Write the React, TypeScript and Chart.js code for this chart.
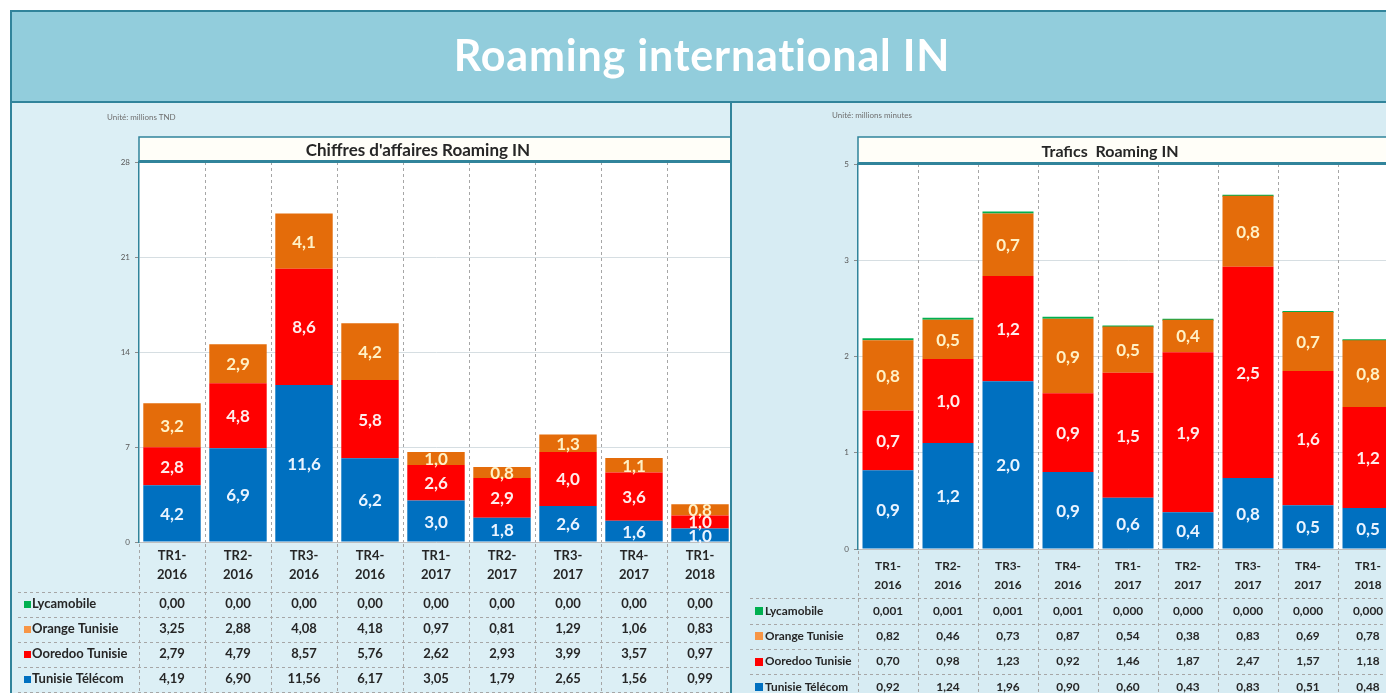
import React, { useEffect, useRef } from 'react';
import { Chart, registerables } from 'chart.js';

Chart.register(...registerables);

// ---------- data ----------
const categories = ['TR1-2016', 'TR2-2016', 'TR3-2016', 'TR4-2016', 'TR1-2017', 'TR2-2017', 'TR3-2017', 'TR4-2017', 'TR1-2018'];
const operators = ['Lycamobile', 'Orange Tunisie', 'Ooredoo Tunisie', 'Tunisie Télécom'];

// Chiffres d'affaires (millions TND)
const revLycamobile = [0, 0, 0, 0, 0, 0, 0, 0, 0];
const revOrange = [3.25, 2.88, 4.08, 4.18, 0.97, 0.81, 1.29, 1.06, 0.83];
const revOoredoo = [2.79, 4.79, 8.57, 5.76, 2.62, 2.93, 3.99, 3.57, 0.97];
const revTunisieTelecom = [4.19, 6.9, 11.56, 6.17, 3.05, 1.79, 2.65, 1.56, 0.99];
const revAxisMax = 28;
const revAxisStep = 7;

// Trafics (millions minutes)
const trafLycamobile = [0.001, 0.001, 0.001, 0.001, 0, 0, 0, 0, 0];
const trafOrange = [0.82, 0.46, 0.73, 0.87, 0.54, 0.38, 0.83, 0.69, 0.78];
const trafOoredoo = [0.7, 0.98, 1.23, 0.92, 1.46, 1.87, 2.47, 1.57, 1.18];
const trafTunisieTelecom = [0.92, 1.24, 1.96, 0.9, 0.6, 0.43, 0.83, 0.51, 0.48];
const trafAxisMax = 4.5;
const trafAxisStep = 1.125;

const COLORS = {
  lyca: '#00B050',
  orange: '#E46C0A',
  ooredoo: '#FF0000',
  tt: '#0070C0',
};
const TEAL = '#31849B';
const FONT = 'Lato, "Open Sans", sans-serif';

const fmt1 = (v: number) => (Math.round(v * 10 - 1e-6) / 10).toFixed(1).replace('.', ',');
const fmtN = (v: number, d: number) => v.toFixed(d).replace('.', ',');

type TableRow = { name: string; color: string; values: number[]; decimals: number };
type PanelOpts = {
  title: string;
  titleH: number;
  titleSize: number;
  labelSize: number;
  rows: TableRow[];
  legendLeft: number;
  squareX: number;
  squareSize: number;
  textX: number;
  fontSize: number;
  labelY: [number, number];
  rowY0: number;
  rowH: number;
};

const panelPlugin = {
  id: 'panelDecor',
  beforeDraw(chart: any, _args: any, opts: PanelOpts) {
    const { ctx, chartArea: a } = chart;
    ctx.save();
    ctx.fillStyle = '#FFFFFF';
    ctx.fillRect(a.left, a.top, a.right - a.left, a.bottom - a.top);
    // title box
    const tb = a.top - opts.titleH;
    ctx.fillStyle = '#FFFEF8';
    ctx.fillRect(a.left, tb, a.right - a.left + 20, opts.titleH);
    ctx.strokeStyle = TEAL;
    ctx.lineWidth = 1.5;
    ctx.strokeRect(a.left, tb, a.right - a.left + 20, opts.titleH);
    ctx.fillStyle = '#262626';
    ctx.font = `bold ${opts.titleSize}px ${FONT}`;
    ctx.textAlign = 'center';
    ctx.textBaseline = 'middle';
    ctx.fillText(opts.title, (a.left + a.right) / 2 - 18, tb + opts.titleH / 2 + 1);
    ctx.restore();
  },
  beforeDatasetsDraw(chart: any) {
    const { ctx, chartArea: a } = chart;
    const xs = chart.scales.x;
    const n = chart.data.labels.length;
    const w = (a.right - a.left) / n;
    ctx.save();
    ctx.strokeStyle = '#A6A6A6';
    ctx.lineWidth = 1;
    ctx.setLineDash([3, 3]);
    for (let k = 1; k < n; k++) {
      const x = Math.round(xs.getPixelForValue(k) - w / 2) + 0.5;
      ctx.beginPath();
      ctx.moveTo(x, a.top);
      ctx.lineTo(x, a.bottom);
      ctx.stroke();
    }
    ctx.restore();
  },
  afterDatasetsDraw(chart: any, _args: any, opts: PanelOpts) {
    const { ctx } = chart;
    ctx.save();
    ctx.font = `bold ${opts.labelSize}px ${FONT}`;
    ctx.textAlign = 'center';
    ctx.textBaseline = 'middle';
    chart.data.datasets.forEach((ds: any, di: number) => {
      if (!ds.labelColor) return;
      const meta = chart.getDatasetMeta(di);
      meta.data.forEach((el: any, i: number) => {
        const v = ds.data[i];
        const p = el.getProps(['x', 'y', 'base'], true);
        ctx.fillStyle = ds.labelColor;
        ctx.fillText(fmt1(v), p.x, (p.y + p.base) / 2 + 1);
      });
    });
    ctx.restore();
  },
  afterDraw(chart: any, _args: any, opts: PanelOpts) {
    const { ctx, chartArea: a } = chart;
    const xs = chart.scales.x;
    const labels: string[] = chart.data.labels;
    const n = labels.length;
    const w = (a.right - a.left) / n;
    const b = a.bottom;
    const tableBottom = b + opts.rowY0 + opts.rowH * (opts.rows.length - 0.5);
    ctx.save();
    // top thick line of plot area (title bottom border)
    ctx.strokeStyle = TEAL;
    ctx.lineWidth = 3;
    ctx.beginPath();
    ctx.moveTo(a.left, a.top - 0.5);
    ctx.lineTo(a.right + 20, a.top - 0.5);
    ctx.stroke();

    // dashed grid of table
    ctx.strokeStyle = '#A6A6A6';
    ctx.lineWidth = 1;
    ctx.setLineDash([3, 3]);
    for (let k = 0; k <= n; k++) {
      const x = Math.round(a.left + k * w) + 0.5;
      ctx.beginPath();
      ctx.moveTo(x, b + 2);
      ctx.lineTo(x, tableBottom + 4);
      ctx.stroke();
    }
    for (let r = 0; r <= opts.rows.length; r++) {
      const y = Math.round(b + opts.rowY0 + opts.rowH * (r - 0.5)) + 0.5;
      ctx.beginPath();
      ctx.moveTo(opts.legendLeft, y);
      ctx.lineTo(a.right, y);
      ctx.stroke();
    }
    ctx.setLineDash([]);

    // category labels
    ctx.fillStyle = '#262626';
    ctx.font = `bold ${opts.fontSize}px ${FONT}`;
    ctx.textAlign = 'center';
    ctx.textBaseline = 'middle';
    labels.forEach((lab, i) => {
      const x = xs.getPixelForValue(i);
      const cut = lab.indexOf('-') + 1;
      ctx.fillText(lab.slice(0, cut), x, b + opts.labelY[0]);
      ctx.fillText(lab.slice(cut), x, b + opts.labelY[1]);
    });

    // rows
    opts.rows.forEach((row, r) => {
      const y = b + opts.rowY0 + opts.rowH * r;
      ctx.fillStyle = row.color;
      ctx.fillRect(opts.squareX, Math.round(y - opts.squareSize / 2), opts.squareSize, opts.squareSize);
      ctx.fillStyle = '#262626';
      ctx.textAlign = 'left';
      ctx.fillText(row.name, opts.textX, y);
      ctx.textAlign = 'center';
      row.values.forEach((v, i) => {
        ctx.fillText(fmtN(v, row.decimals), xs.getPixelForValue(i), y);
      });
    });
    ctx.restore();
  },
};

type ChartCfg = {
  data: { tt: number[]; ooredoo: number[]; orange: number[]; lyca: number[] };
  max: number;
  step: number;
  tickFmt: (v: number) => string;
  yWidth: number;
  padding: { top: number; bottom: number; left: number; right: number };
  barPct: number;
  lycaMin: number;
  panel: PanelOpts;
};

function ChartCanvas(props: { left: number; top: number; width: number; height: number; cfg: ChartCfg }) {
  const ref = useRef<HTMLCanvasElement>(null);
  const { cfg } = props;
  useEffect(() => {
    if (!ref.current) return;
    const chart = new Chart(ref.current, {
      type: 'bar',
      data: {
        labels: categories,
        datasets: [
          { label: operators[3], data: cfg.data.tt, backgroundColor: COLORS.tt, labelColor: '#EAF4FF' } as any,
          { label: operators[2], data: cfg.data.ooredoo, backgroundColor: COLORS.ooredoo, labelColor: '#FFEDED' } as any,
          { label: operators[1], data: cfg.data.orange, backgroundColor: COLORS.orange, labelColor: '#FFF1C6' } as any,
          { label: operators[0], data: cfg.data.lyca, backgroundColor: COLORS.lyca, minBarLength: cfg.lycaMin } as any,
        ],
      },
      options: {
        responsive: false,
        animation: false,
        devicePixelRatio: 1,
        layout: { padding: cfg.padding },
        datasets: { bar: { barPercentage: cfg.barPct, categoryPercentage: 1 } },
        plugins: {
          legend: { display: false },
          tooltip: { enabled: false },
          title: { display: false },
          panelDecor: cfg.panel,
        } as any,
        scales: {
          x: {
            stacked: true,
            grid: { display: false },
            ticks: { display: false },
            border: { display: true, color: '#BFBFBF', width: 1 },
            afterFit: (s: any) => {
              s.height = 0;
            },
          },
          y: {
            stacked: true,
            min: 0,
            max: cfg.max,
            ticks: {
              stepSize: cfg.step,
              autoSkip: false,
              font: { family: FONT, size: 8 },
              color: '#595959',
              padding: 5,
              callback: (v: any) => cfg.tickFmt(Number(v)),
            },
            grid: { color: '#D6DEE2', drawTicks: true, tickLength: 4, tickColor: '#8C8C8C' },
            border: { display: true, color: TEAL, width: 1.5 },
            afterFit: (s: any) => {
              s.width = cfg.yWidth;
            },
          },
        },
      },
      plugins: [panelPlugin as any],
    });
    return () => chart.destroy();
  }, []);
  return (
    <canvas
      ref={ref}
      width={props.width}
      height={props.height}
      style={{ position: 'absolute', left: props.left, top: props.top, width: props.width, height: props.height }}
    />
  );
}

const revCfg: ChartCfg = {
  data: { tt: revTunisieTelecom, ooredoo: revOoredoo, orange: revOrange, lyca: revLycamobile },
  max: revAxisMax,
  step: revAxisStep,
  tickFmt: (v) => String(Math.round(v)),
  yWidth: 129,
  padding: { top: 59, bottom: 151, left: 0, right: 1 },
  barPct: 0.87,
  lycaMin: 0,
  panel: {
    title: "Chiffres d'affaires Roaming IN",
    titleH: 25,
    titleSize: 17,
    labelSize: 17,
    rows: [
      { name: operators[0], color: COLORS.lyca, values: revLycamobile, decimals: 2 },
      { name: operators[1], color: '#F79646', values: revOrange, decimals: 2 },
      { name: operators[2], color: COLORS.ooredoo, values: revOoredoo, decimals: 2 },
      { name: operators[3], color: COLORS.tt, values: revTunisieTelecom, decimals: 2 },
    ],
    legendLeft: 8,
    squareX: 14,
    squareSize: 7,
    textX: 22,
    fontSize: 13,
    labelY: [14, 33],
    rowY0: 62,
    rowH: 25,
  },
};

const trafCfg: ChartCfg = {
  data: { tt: trafTunisieTelecom, ooredoo: trafOoredoo, orange: trafOrange, lyca: trafLycamobile },
  max: trafAxisMax,
  step: trafAxisStep,
  tickFmt: (v) => String(Math.round(v)),
  yWidth: 126,
  padding: { top: 61, bottom: 144, left: 0, right: 34 },
  barPct: 0.85,
  lycaMin: 2,
  panel: {
    title: 'Trafics  Roaming IN',
    titleH: 27,
    titleSize: 16,
    labelSize: 17,
    rows: [
      { name: operators[0], color: COLORS.lyca, values: trafLycamobile, decimals: 3 },
      { name: operators[1], color: '#F79646', values: trafOrange, decimals: 2 },
      { name: operators[2], color: COLORS.ooredoo, values: trafOoredoo, decimals: 2 },
      { name: operators[3], color: COLORS.tt, values: trafTunisieTelecom, decimals: 2 },
    ],
    legendLeft: 18,
    squareX: 23,
    squareSize: 8,
    textX: 33,
    fontSize: 11.8,
    labelY: [17, 36],
    rowY0: 62,
    rowH: 25.3,
  },
};

export default function App() {
  return (
    <div
      style={{
        position: 'fixed',
        left: 0,
        top: 0,
        width: 1386,
        height: 693,
        overflow: 'hidden',
        background: '#FFFFFF',
        fontFamily: FONT,
      }}
    >
      <div
        style={{
          position: 'absolute',
          left: 10,
          top: 100,
          width: 721,
          height: 600,
          background: '#DCEFF5',
          borderLeft: `2px solid ${TEAL}`,
          boxSizing: 'border-box',
        }}
      />
      <ChartCanvas left={10} top={103} width={724} height={590} cfg={revCfg} />
      <div
        style={{
          position: 'absolute',
          left: 730,
          top: 100,
          width: 700,
          height: 600,
          background: '#D7ECF3',
          borderLeft: `2px solid ${TEAL}`,
          boxSizing: 'border-box',
        }}
      />
      <ChartCanvas left={732} top={103} width={700} height={590} cfg={trafCfg} />
      <div
        style={{
          position: 'absolute',
          left: 10,
          top: 10,
          width: 1400,
          height: 93,
          background: '#92CDDC',
          border: `2px solid ${TEAL}`,
          boxSizing: 'border-box',
        }}
      />
      <div
        style={{
          position: 'absolute',
          left: 0,
          top: 31,
          width: 1404,
          textAlign: 'center',
          color: '#FFFFFF',
          fontWeight: 700,
          fontSize: 43,
          letterSpacing: '0.8px',
          lineHeight: '48px',
        }}
      >
        Roaming international IN
      </div>
      <div style={{ position: 'absolute', left: 107, top: 111, fontSize: 8, lineHeight: '12px', color: '#6F6F6F' }}>
        Unité: millions TND
      </div>
      <div style={{ position: 'absolute', left: 832, top: 109, fontSize: 8, lineHeight: '12px', color: '#6F6F6F' }}>
        Unité: millions minutes
      </div>
    </div>
  );
}
